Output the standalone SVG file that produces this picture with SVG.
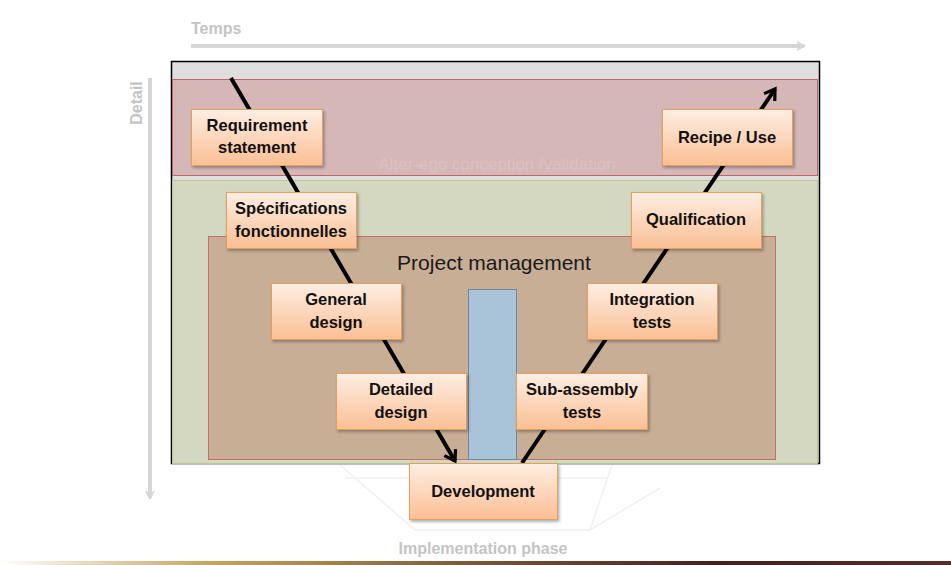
<svg xmlns="http://www.w3.org/2000/svg" width="951" height="565" viewBox="0 0 951 565">
<defs>
<linearGradient id="ng" x1="0" y1="0" x2="0" y2="1">
<stop offset="0" stop-color="#fdeee3"/>
<stop offset="1" stop-color="#fbbf94"/>
</linearGradient>
<linearGradient id="bl" x1="0" y1="0" x2="1" y2="0">
<stop offset="0" stop-color="#ffffff"/>
<stop offset="0.22" stop-color="#c9a45a"/>
<stop offset="0.5" stop-color="#7d5634"/>
<stop offset="0.75" stop-color="#4a1e1e"/>
<stop offset="1" stop-color="#5a2a2a"/>
</linearGradient>
<marker id="ah" markerWidth="16" markerHeight="16" refX="12" refY="8" orient="auto" markerUnits="userSpaceOnUse" viewBox="0 0 16 16">
<path d="M2,1.5 L12,8 L2,14.5" fill="none" stroke="#000" stroke-width="3.2"/>
</marker>
<marker id="gh" markerWidth="12" markerHeight="12" refX="9" refY="6" orient="auto" markerUnits="userSpaceOnUse" viewBox="0 0 12 12">
<path d="M2,2 L9,6 L2,10" fill="none" stroke="#d6d6d6" stroke-width="2"/>
</marker>
<filter id="sh" x="-10%" y="-10%" width="130%" height="140%">
<feDropShadow dx="1.5" dy="2" stdDeviation="1.5" flood-color="#000" flood-opacity="0.3"/>
</filter>
</defs>
<style>
.node rect{fill:url(#ng);stroke:#e0a060;stroke-width:1;filter:url(#sh)}
.node text{font-family:"Liberation Sans",Arial,sans-serif;font-weight:bold;font-size:16.5px;fill:#111;text-anchor:middle}
.axis{font-family:"Liberation Sans",Arial,sans-serif;font-weight:bold;font-size:16px;fill:#c4c4c4}
.conn line{stroke:#000;stroke-width:4}
</style>
<rect width="951" height="565" fill="#fff"/>
<!-- faint ghost shape -->
<g fill="none" stroke="#f0f0f0" stroke-width="1.5">
<polyline points="340,465 415,530 590,530 612,465"/>
<line x1="345" y1="478" x2="409" y2="478"/>
<line x1="557" y1="478" x2="608" y2="478"/>
<line x1="590" y1="530" x2="660" y2="488"/>
</g>
<!-- axes -->
<g id="axes">
<text class="axis" x="191" y="34">Temps</text>
<line x1="191" y1="46" x2="804" y2="46" stroke="#d6d6d6" stroke-width="4" marker-end="url(#gh)"/>
<text class="axis" transform="translate(142,103) rotate(-90)" text-anchor="middle">Detail</text>
<line x1="150" y1="78" x2="150" y2="498" stroke="#d6d6d6" stroke-width="4" marker-end="url(#gh)"/>
<text class="axis" x="483" y="554" text-anchor="middle">Implementation phase</text>
</g>
<!-- background areas -->
<g id="frame">
<rect x="171.5" y="61.5" width="648" height="402" fill="#dedede" stroke="#000" stroke-width="1.5"/>
</g>
<g id="validation">
<rect x="172.5" y="79.5" width="645" height="96" fill="#d5b7b7" stroke="#c06666" stroke-width="1"/>
<text x="497" y="170" text-anchor="middle" font-family="Liberation Sans,Arial,sans-serif" font-size="17" fill="#d9c2c2">Alter-ego conception /validation</text>
</g>
<g id="green">
<rect x="172.5" y="180.5" width="645" height="283" fill="#d5d8c0" stroke="#b8c890" stroke-width="1"/>
</g>
<g id="project">
<rect x="208.5" y="236.5" width="567" height="223" fill="#c9ae96" stroke="#c07070" stroke-width="1"/>
<text x="494" y="270" text-anchor="middle" font-family="Liberation Sans,Arial,sans-serif" font-size="21" fill="#1a1a1a">Project management</text>
</g>
<g id="bar">
<rect x="468.5" y="289.5" width="48" height="170" fill="#a9c4d9" stroke="#6b88a8" stroke-width="1"/>
</g>
<!-- connectors -->
<g class="conn" id="connectors">
<line x1="231" y1="78" x2="455" y2="461" marker-end="url(#ah)"/>
<line x1="522" y1="463" x2="775" y2="89" marker-end="url(#ah)"/>
</g>
<!-- nodes -->
<g class="node" id="requirement"><rect x="191.5" y="109.5" width="131" height="56"/><text x="257" y="131">Requirement</text><text x="257" y="153">statement</text></g>
<g class="node" id="specifications"><rect x="226.5" y="192.5" width="130" height="56"/><text x="291" y="214">Spécifications</text><text x="291" y="237">fonctionnelles</text></g>
<g class="node" id="general"><rect x="271.5" y="283.5" width="130" height="56"/><text x="336" y="305">General</text><text x="336" y="328">design</text></g>
<g class="node" id="detailed"><rect x="336.5" y="373.5" width="130" height="56"/><text x="401" y="395">Detailed</text><text x="401" y="418">design</text></g>
<g class="node" id="development"><rect x="409.5" y="463.5" width="148" height="56"/><text x="483" y="497">Development</text></g>
<g class="node" id="subassembly"><rect x="516.5" y="373.5" width="131" height="56"/><text x="582" y="395">Sub-assembly</text><text x="582" y="418">tests</text></g>
<g class="node" id="integration"><rect x="587.5" y="283.5" width="130" height="56"/><text x="652" y="305">Integration</text><text x="652" y="328">tests</text></g>
<g class="node" id="qualification"><rect x="631.5" y="192.5" width="130" height="56"/><text x="696" y="225">Qualification</text></g>
<g class="node" id="recipe"><rect x="662.5" y="109.5" width="130" height="56"/><text x="727" y="143">Recipe / Use</text></g>
<rect x="0" y="561" width="951" height="4" fill="url(#bl)"/>
</svg>
